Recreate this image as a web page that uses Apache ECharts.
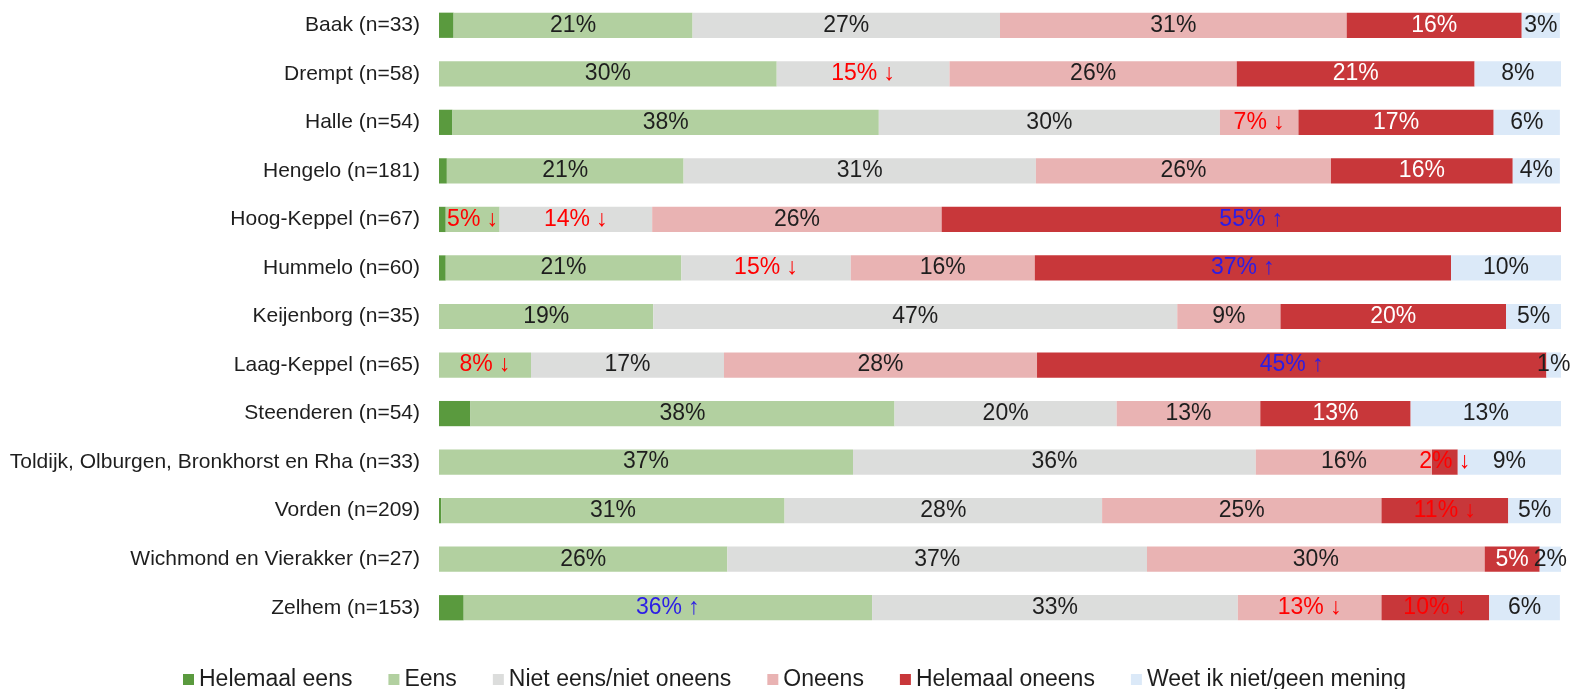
<!DOCTYPE html>
<html>
<head>
<meta charset="utf-8">
<script src="https://cdn.jsdelivr.net/npm/echarts@6/dist/echarts.min.js"></script>
<style>
  html, body { margin: 0; padding: 0; background: #fff; }
  #chart { width: 1571px; height: 689px; }
</style>
</head>
<body>
<div id="chart"></div>
<script>
// categories (top to bottom)
var places = [
  'Baak (n=33)', 'Drempt (n=58)', 'Halle (n=54)', 'Hengelo (n=181)',
  'Hoog-Keppel (n=67)', 'Hummelo (n=60)', 'Keijenborg (n=35)', 'Laag-Keppel (n=65)',
  'Steenderen (n=54)', 'Toldijk, Olburgen, Bronkhorst en Rha (n=33)', 'Vorden (n=209)',
  'Wichmond en Vierakker (n=27)', 'Zelhem (n=153)'
]

// percentages per answer
var helemaalEens   = [1.3, 0, 1.2, 0.7, 0.6, 0.6, 0, 0, 2.8, 0, 0.2, 0, 2.2]
var eens           = [21.3, 30.1, 38.0, 21.1, 4.8, 21.0, 19.1, 8.2, 37.8, 36.9, 30.6, 25.7, 36.4]
var nietEens       = [27.4, 15.4, 30.4, 31.4, 13.6, 15.1, 46.7, 17.2, 19.8, 35.9, 28.3, 37.4, 32.6]
var oneens         = [30.9, 25.6, 7.0, 26.3, 25.8, 16.4, 9.2, 27.9, 12.8, 15.7, 24.9, 30.1, 12.8]
var helemaalOneens = [15.6, 21.2, 17.4, 16.2, 55.2, 37.1, 20.1, 45.4, 13.4, 2.3, 11.3, 4.9, 9.6]
var weetNiet       = [3.4, 7.7, 5.9, 4.2, 0, 9.8, 5.0, 1.4, 13.4, 9.2, 4.7, 1.9, 6.3]

// significance markers ('' none, 'down' lower, 'up' higher)
var eensSig           = ['', '', '', '', 'down', '', '', 'down', '', '', '', '', 'up']
var nietEensSig       = ['', 'down', '', '', 'down', 'down', '', '', '', '', '', '', '']
var oneensSig         = ['', '', 'down', '', '', '', '', '', '', '', '', '', 'down']
var helemaalOneensSig = ['', '', '', '', 'up', 'up', '', 'up', '', 'down', 'down', '', 'down']
var noSig             = places.map(function () { return '' })

var FONT = 'Liberation Sans, Arial, sans-serif'

function makeSeries(name, values, color, sig, textColor, showLabel) {
  return {
    name: name,
    type: 'bar',
    stack: 'total',
    barCategoryGap: '48%',
    itemStyle: { color: color },
    emphasis: { disabled: true },
    data: values.map(function (v, i) {
      var item = { value: v }
      if (sig[i] === 'down') item.label = { color: '#ff0000' }
      if (sig[i] === 'up') item.label = { color: '#2b1de6' }
      return item
    }),
    label: {
      show: showLabel,
      position: 'inside',
      fontFamily: FONT,
      fontSize: 23,
      color: textColor,
      formatter: function (p) {
        if (!p.value) return ''
        var s = sig[p.dataIndex]
        var txt = Math.round(p.value) + '%'
        if (s === 'down') txt += ' \u2193'
        if (s === 'up') txt += ' \u2191'
        return txt
      }
    }
  }
}

var chart = echarts.init(document.getElementById('chart'))
chart.setOption({
  animation: false,
  textStyle: { fontFamily: FONT },
  grid: { left: 439, right: 10, top: 1, height: 631 },
  xAxis: {
    type: 'value',
    min: 0,
    max: 100,
    show: false
  },
  yAxis: {
    type: 'category',
    inverse: true,
    data: places,
    axisLine: { show: false },
    axisTick: { show: false },
    axisLabel: { fontFamily: FONT, fontSize: 21, color: '#1e1e1e', margin: 19 }
  },
  legend: {
    left: 178,
    top: 663,
    icon: 'rect',
    itemWidth: 11,
    itemHeight: 11,
    itemGap: 36,
    textStyle: { fontFamily: FONT, fontSize: 23, color: '#1e1e1e' },
    data: ['Helemaal eens', 'Eens', 'Niet eens/niet oneens', 'Oneens', 'Helemaal oneens', 'Weet ik niet/geen mening']
  },
  series: [
    makeSeries('Helemaal eens', helemaalEens, '#5a9a3e', noSig, '#1e1e1e', false),
    makeSeries('Eens', eens, '#b2d0a0', eensSig, '#1e1e1e', true),
    makeSeries('Niet eens/niet oneens', nietEens, '#dcdddc', nietEensSig, '#1e1e1e', true),
    makeSeries('Oneens', oneens, '#e9b3b3', oneensSig, '#1e1e1e', true),
    makeSeries('Helemaal oneens', helemaalOneens, '#c8373a', helemaalOneensSig, '#ffffff', true),
    makeSeries('Weet ik niet/geen mening', weetNiet, '#dbe9f8', noSig, '#1e1e1e', true)
  ]
})
</script>
</body>
</html>
